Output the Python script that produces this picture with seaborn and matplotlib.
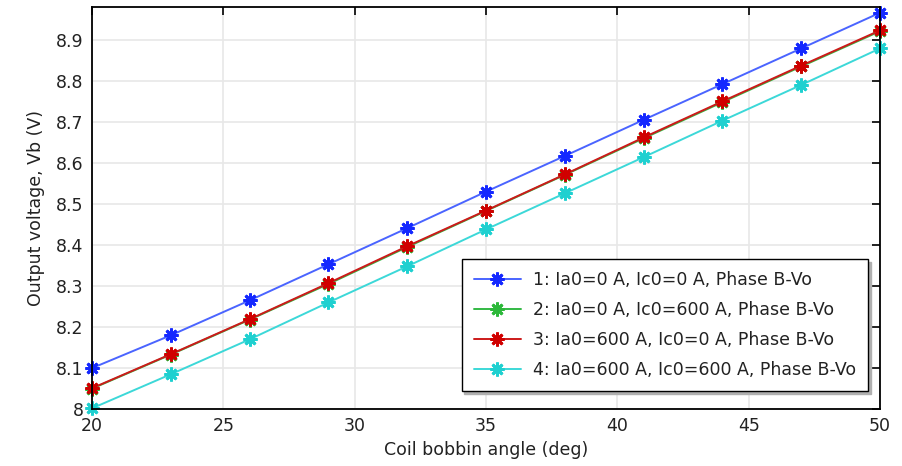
import matplotlib
matplotlib.use("Agg")
import matplotlib.pyplot as plt
import seaborn as sns
import pandas as pd

angle = [20, 23, 26, 29, 32, 35, 38, 41, 44, 47, 50]
vb_1 = [8.100, 8.180, 8.265, 8.353, 8.441, 8.530, 8.617, 8.705, 8.792, 8.879, 8.966]
vb_2 = [8.050, 8.133, 8.218, 8.305, 8.395, 8.483, 8.571, 8.660, 8.748, 8.835, 8.921]
vb_3 = [8.051, 8.134, 8.219, 8.307, 8.397, 8.484, 8.572, 8.662, 8.750, 8.837, 8.923]
vb_4 = [8.002, 8.085, 8.170, 8.260, 8.348, 8.438, 8.526, 8.614, 8.703, 8.790, 8.879]
labels = [
    "1: Ia0=0 A, Ic0=0 A, Phase B-Vo",
    "2: Ia0=0 A, Ic0=600 A, Phase B-Vo",
    "3: Ia0=600 A, Ic0=0 A, Phase B-Vo",
    "4: Ia0=600 A, Ic0=600 A, Phase B-Vo",
]
line_colors = ["#4a64ff", "#33b944", "#cc1a1a", "#3cd8d8"]
marker_colors = ["#1428ff", "#2cb83a", "#d00000", "#1fd0d0"]

sns.set_style("white")
plt.rcParams["font.family"] = ["DejaVu Sans"]
plt.rcParams["text.color"] = "#222222"
plt.rcParams["axes.labelcolor"] = "#222222"

fig = plt.figure(figsize=(9.02, 4.66), dpi=100)
ax = fig.add_axes([0.102, 0.122, 0.8736, 0.863])

for vals, lab, lc, mc in zip([vb_1, vb_2, vb_3, vb_4], labels, line_colors, marker_colors):
    df = pd.DataFrame({"angle": angle, "vb": vals})
    sns.lineplot(data=df, x="angle", y="vb", ax=ax, color=lc, label=lab,
                 marker=(8, 2, 0), markersize=10, markeredgewidth=2,
                 markeredgecolor=mc, markerfacecolor=mc, linewidth=1.4,
                 clip_on=False)

ax.set_xlim(20, 50)
ax.set_ylim(8, 8.98)
ax.set_xticks([20, 25, 30, 35, 40, 45, 50])
ax.set_xticklabels(["20", "25", "30", "35", "40", "45", "50"])
ax.set_yticks([8, 8.1, 8.2, 8.3, 8.4, 8.5, 8.6, 8.7, 8.8, 8.9])
ax.set_yticklabels(["8", "8.1", "8.2", "8.3", "8.4", "8.5", "8.6", "8.7", "8.8", "8.9"])
ax.grid(True, color="#e8e8e8", linewidth=1.2)
ax.tick_params(direction="in", length=6, width=1.2, top=True, right=True,
               labelsize=12.5, colors="black", labelcolor="#222222", pad=6)
for s in ax.spines.values():
    s.set_color("black")
    s.set_linewidth(1.3)
    s.set_zorder(5)

ax.set_xlabel("Coil bobbin angle (deg)", fontsize=12.5, labelpad=4)
ax.set_ylabel("Output voltage, Vb (V)", fontsize=12.5, labelpad=8)

leg = ax.legend(loc="lower right", bbox_to_anchor=(0.985, 0.045), fontsize=12.5,
                frameon=True, fancybox=False, shadow={"color": "#b0b0b0", "alpha": 1},
                framealpha=1, edgecolor="black", borderpad=0.7, labelspacing=0.68,
                handlelength=2.7, handletextpad=0.7, borderaxespad=0)
leg.get_frame().set_linewidth(1)

fig.savefig("out.png", dpi=100)
